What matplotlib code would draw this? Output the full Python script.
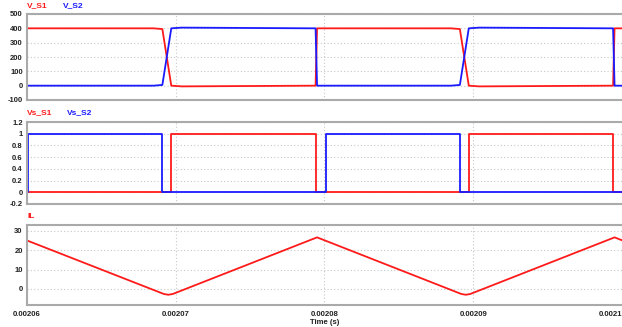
import matplotlib
matplotlib.use("Agg")
import matplotlib.pyplot as plt
from matplotlib.ticker import FixedLocator

# switch node voltages
t_v = [0.002059, 0.0020685, 0.0020691, 0.0020697, 0.0020704, 0.0020794, 0.0020795,
       0.0020885, 0.0020891, 0.0020897, 0.0020904, 0.0020994, 0.0020995, 0.00211]
v_s1 = [400, 400, 395, 0, -5, 0, 400, 400, 395, 0, -5, 0, 400, 400]
v_s2 = [0, 0, 5, 400, 405, 400, 0, 0, 5, 400, 405, 400, 0, 0]

# gate signals
t_g1 = [0.002059, 0.0020697, 0.0020794, 0.0020897, 0.0020994, 0.00211]
g_s1 = [0, 1, 0, 1, 0, 0]
t_g2 = [0.002059, 0.0020601, 0.0020691, 0.0020801, 0.0020891, 0.0021001, 0.00211]
g_s2 = [0, 1, 0, 1, 0, 1, 1]

# inductor current
t_il = [0.0020595, 0.0020692, 0.0020695, 0.0020698, 0.0020795,
        0.0020892, 0.0020895, 0.0020898, 0.0020995, 0.0021093]
il = [26.6, -2.6, -3.0, -2.6, 26.7, -2.6, -3.0, -2.6, 26.7, -2.8]

x_ticks = [0.00206, 0.00207, 0.00208, 0.00209, 0.0021]
x_labels = ["0.00206", "0.00207", "0.00208", "0.00209", "0.0021"]

RED = "#ff1a1a"
BLUE = "#1a1aff"
FRAME = "#aaaaaa"
W, H = 622, 327

fig = plt.figure(figsize=(W / 100, H / 100), dpi=100)


def make_ax(top, bottom, ylim, yticks, ylabels):
    ax = fig.add_axes([27 / W, 1 - bottom / H, 1 - 27 / W, (bottom - top) / H])
    ax.set_xlim(0.00206, 0.0021)
    ax.set_ylim(*ylim)
    ax.yaxis.set_major_locator(FixedLocator(yticks))
    ax.set_yticklabels(ylabels)
    ax.xaxis.set_major_locator(FixedLocator(x_ticks))
    ax.grid(True, color="#c8c8c8", linestyle=(0, (1, 2)), linewidth=0.8)
    ax.spines["right"].set_visible(False)
    for s in ("top", "bottom", "left"):
        ax.spines[s].set_color(FRAME)
        ax.spines[s].set_linewidth(1.5)
    ax.tick_params(length=0, pad=3, labelsize=5.5, labelcolor="#222222")
    for lab in ax.get_yticklabels():
        lab.set_fontweight("bold")
        lab.set_family(["Liberation Sans Narrow", "Liberation Sans"])
    ax.tick_params(axis="x", labelbottom=False)
    return ax


ax1 = make_ax(14, 100, (-100, 500), [-100, 0, 100, 200, 300, 400, 500],
              ["-100", "0", "100", "200", "300", "400", "500"])
ax1.plot(t_v, v_s1, color=RED, lw=1.3)
ax1.plot(t_v, v_s2, color=BLUE, lw=1.3)

ax2 = make_ax(122, 204, (-0.2, 1.2), [-0.2, 0, 0.2, 0.4, 0.6, 0.8, 1, 1.2],
              ["-0.2", "0", "0.2", "0.4", "0.6", "0.8", "1", "1.2"])
ax2.step(t_g1, g_s1, where="post", color=RED, lw=1.3)
ax2.step(t_g2, g_s2, where="post", color=BLUE, lw=1.3)

ax3 = make_ax(225, 305, (-8.3, 33.1), [0, 10, 20, 30], ["0", "10", "20", "30"])
ax3.plot(t_il, il, color=RED, lw=1.3)
ax3.tick_params(axis="x", labelbottom=True, pad=4)
ax3.set_xticklabels(x_labels, fontweight="bold", fontsize=5.6, family="Liberation Sans")
# last label sits on the right edge, keep it inside the picture
ax3.get_xticklabels()[-1].set_horizontalalignment("right")
ax3.set_xlabel("Time (s)", fontsize=5.6, fontweight="bold", color="#222222",
               family="Liberation Sans", labelpad=1)

lab = dict(fontsize=6, fontweight="bold", family="Liberation Sans")
fig.text(27 / W, 1 - 6 / H, "V_S1", color=RED, va="center", **lab)
fig.text(63 / W, 1 - 6 / H, "V_S2", color=BLUE, va="center", **lab)
fig.text(27 / W, 1 - 113 / H, "Vs_S1", color=RED, va="center", **lab)
fig.text(67 / W, 1 - 113 / H, "Vs_S2", color=BLUE, va="center", **lab)
fig.text(27 / W, 1 - 217 / H, "IL", color=RED, va="center", **lab)

fig.savefig("out.png", dpi=100)
